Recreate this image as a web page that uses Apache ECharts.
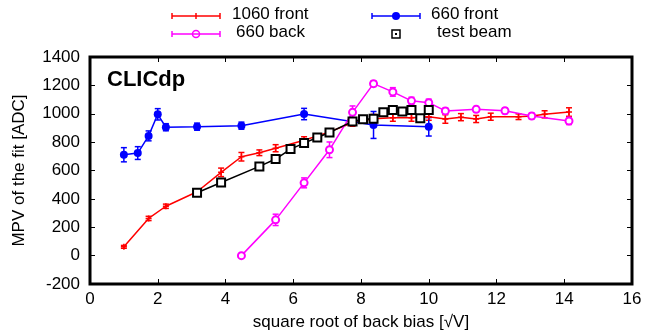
<!DOCTYPE html>
<html>
<head>
<meta charset="utf-8">
<script src="https://cdn.jsdelivr.net/npm/echarts@6/dist/echarts.min.js"></script>
<style>
  html, body { margin: 0; padding: 0; background: #fff; }
  #chart { width: 645px; height: 330px; }
</style>
</head>
<body>
<div id="chart"></div>
<script>
// Axis ticks
var xTicks = [0, 2, 4, 6, 8, 10, 12, 14, 16];
var yTicks = [-200, 0, 200, 400, 600, 800, 1000, 1200, 1400];

// 1060 front: x = sqrt(back bias), MPV, error
var x1060Front = [1.00, 1.73, 2.24, 3.16, 3.87, 4.47, 5.00, 5.48, 6.32, 7.07, 7.75, 8.37, 8.94, 9.49, 10.00, 10.49, 10.95, 11.40, 11.83, 12.65, 13.04, 13.42, 14.14];
var y1060Front = [62, 262, 348, 450, 587, 697, 725, 757, 813, 872, 937, 965, 972, 972, 979, 963, 976, 963, 979, 979, 984, 996, 1012];
var e1060Front = [10, 15, 15, 20, 30, 30, 20, 25, 25, 20, 25, 30, 25, 25, 25, 30, 25, 25, 25, 20, 15, 25, 30];

// 660 front
var x660Front = [1.00, 1.41, 1.73, 2.00, 2.24, 3.16, 4.47, 6.32, 8.37, 10.00];
var y660Front = [711, 723, 844, 996, 905, 909, 916, 998, 921, 908];
var e660Front = [50, 45, 35, 40, 25, 25, 25, 40, 95, 65];

// 660 back
var x660Back = [4.47, 5.48, 6.32, 7.07, 7.75, 8.37, 8.94, 9.49, 10.00, 10.49, 11.40, 12.25, 13.04, 14.14];
var y660Back = [0, 252, 513, 746, 1010, 1212, 1154, 1091, 1078, 1020, 1031, 1021, 984, 949];
var e660Back = [10, 40, 35, 55, 45, 20, 30, 25, 25, 20, 20, 20, 20, 25];

// test beam
var xTestBeam = [3.16, 3.87, 5.00, 5.48, 5.92, 6.32, 6.71, 7.07, 7.75, 8.06, 8.37, 8.66, 8.94, 9.22, 9.49, 9.75, 10.00];
var yTestBeam = [443, 515, 629, 681, 751, 793, 833, 868, 946, 962, 965, 1010, 1026, 1016, 1026, 968, 1026];

var FONT = '"Liberation Sans", Arial, Helvetica, sans-serif';

function pairs(xs, ys) {
  return xs.map(function (x, i) { return [x, ys[i]]; });
}
function errTriples(xs, ys, es) {
  return xs.map(function (x, i) { return [x, ys[i] - es[i], ys[i] + es[i]]; });
}

// Vertical error bars with short horizontal caps
function errorBarSeries(xs, ys, es, color) {
  return {
    type: 'custom',
    data: errTriples(xs, ys, es),
    z: 3,
    silent: true,
    renderItem: function (params, api) {
      var lo = api.coord([api.value(0), api.value(1)]);
      var hi = api.coord([api.value(0), api.value(2)]);
      var cap = 3;
      var style = { stroke: color, lineWidth: 1.5, fill: null };
      return {
        type: 'group',
        children: [
          { type: 'line', shape: { x1: lo[0], y1: lo[1], x2: hi[0], y2: hi[1] }, style: style },
          { type: 'line', shape: { x1: lo[0] - cap, y1: lo[1], x2: lo[0] + cap, y2: lo[1] }, style: style },
          { type: 'line', shape: { x1: hi[0] - cap, y1: hi[1], x2: hi[0] + cap, y2: hi[1] }, style: style }
        ]
      };
    }
  };
}

var plusPath = 'path://M0,5L10,5M5,0L5,10';

var chart = echarts.init(document.getElementById('chart'), null, { renderer: 'canvas' });

var axisLabelStyle = { color: '#000', fontSize: 17, fontFamily: FONT };
var tickStyle = { show: true, inside: true, length: 5, lineStyle: { color: '#000', width: 1 } };

var legendSamples = [];
function legendLine(x1, x2, y, color) {
  var s = { stroke: color, lineWidth: 1.5 };
  legendSamples.push({ type: 'line', shape: { x1: x1, y1: y, x2: x2, y2: y }, style: s, z: 10 });
  legendSamples.push({ type: 'line', shape: { x1: x1, y1: y - 3, x2: x1, y2: y + 3 }, style: s, z: 10 });
  legendSamples.push({ type: 'line', shape: { x1: x2, y1: y - 3, x2: x2, y2: y + 3 }, style: s, z: 10 });
}
function legendText(x, y, str) {
  legendSamples.push({ type: 'text', left: x, top: y - 10, style: { text: str, fill: '#000', font: '17px ' + FONT }, z: 10 });
}
legendLine(172, 220, 16, '#ff0000');
legendSamples.push({ type: 'line', shape: { x1: 196, y1: 13, x2: 196, y2: 19 }, style: { stroke: '#ff0000', lineWidth: 1.5 }, z: 10 });
legendText(232, 16, '1060 front');
legendLine(372, 420, 16, '#0000ff');
legendSamples.push({ type: 'circle', shape: { cx: 396, cy: 16, r: 4 }, style: { fill: '#0000ff' }, z: 10 });
legendText(431, 16, '660 front');
legendLine(172, 220, 34, '#ff00ff');
legendSamples.push({ type: 'circle', shape: { cx: 196, cy: 34, r: 3.5 }, style: { fill: null, stroke: '#ff00ff', lineWidth: 1.5 }, z: 10 });
legendText(236, 34, '660 back');
legendSamples.push({ type: 'rect', shape: { x: 392, y: 30, width: 8, height: 8 }, style: { fill: null, stroke: '#000', lineWidth: 1.5 }, z: 10 });
legendSamples.push({ type: 'rect', shape: { x: 395, y: 33, width: 2, height: 2 }, style: { fill: '#000' }, z: 10 });
legendText(437, 34, 'test beam');

var option = {
  animation: false,
  backgroundColor: '#fff',
  grid: {
    left: 90, right: 13, top: 57, bottom: 46, containLabel: false, outerBoundsMode: 'none',
    show: true, borderColor: '#000', borderWidth: 3, backgroundColor: 'transparent'
  },
  xAxis: [{
    type: 'value', min: 0, max: 16, interval: 2, position: 'bottom',
    name: 'square root of back bias [\u221AV]', nameLocation: 'middle', nameGap: 30,
    nameTextStyle: { color: '#000', fontSize: 17, fontFamily: FONT },
    axisLine: { show: false, onZero: false },
    axisTick: tickStyle,
    axisLabel: Object.assign({ margin: 7, formatter: function (v) { return xTicks.indexOf(v) >= 0 ? String(v) : ''; } }, axisLabelStyle),
    splitLine: { show: false }
  }, {
    type: 'value', min: 0, max: 16, interval: 2, position: 'top',
    axisLine: { show: false, onZero: false },
    axisTick: tickStyle,
    axisLabel: { show: false },
    splitLine: { show: false }
  }],
  yAxis: [{
    type: 'value', min: -200, max: 1400, interval: 200, position: 'left',
    name: 'MPV of the fit [ADC]', nameLocation: 'middle', nameGap: 62, nameRotate: 90,
    nameTextStyle: { color: '#000', fontSize: 17, fontFamily: FONT },
    axisLine: { show: false, onZero: false },
    axisTick: tickStyle,
    axisLabel: Object.assign({ margin: 10, formatter: function (v) { return yTicks.indexOf(v) >= 0 ? String(v) : ''; } }, axisLabelStyle),
    splitLine: { show: false }
  }, {
    type: 'value', min: -200, max: 1400, interval: 200, position: 'right',
    axisLine: { show: false, onZero: false },
    axisTick: tickStyle,
    axisLabel: { show: false },
    splitLine: { show: false }
  }],
  graphic: [{
    type: 'text', left: 107, top: 69, z: 10,
    style: { text: 'CLICdp', fill: '#000', font: 'bold 22px ' + FONT }
  }].concat(legendSamples),
  series: [
    errorBarSeries(x1060Front, y1060Front, e1060Front, '#ff0000'),
    {
      name: '1060 front', type: 'line', data: pairs(x1060Front, y1060Front),
      symbol: plusPath, symbolSize: 6, z: 4,
      lineStyle: { color: '#ff0000', width: 1.5 },
      itemStyle: { color: '#ff0000', borderColor: '#ff0000', borderWidth: 1.5 }
    },
    errorBarSeries(x660Front, y660Front, e660Front, '#0000ff'),
    {
      name: '660 front', type: 'line', data: pairs(x660Front, y660Front),
      symbol: 'circle', symbolSize: 8, z: 4,
      lineStyle: { color: '#0000ff', width: 1.5 },
      itemStyle: { color: '#0000ff' }
    },
    errorBarSeries(x660Back, y660Back, e660Back, '#ff00ff'),
    {
      name: '660 back', type: 'line', data: pairs(x660Back, y660Back),
      symbol: 'emptyCircle', symbolSize: 7, z: 4,
      lineStyle: { color: '#ff00ff', width: 1.5 },
      itemStyle: { color: '#ff00ff', borderColor: '#ff00ff', borderWidth: 1.5 }
    },
    {
      name: 'test beam', type: 'line', data: pairs(xTestBeam, yTestBeam),
      symbol: 'emptyRect', symbolSize: 8, z: 5,
      lineStyle: { color: '#000', width: 1.5 },
      itemStyle: { color: '#000', borderColor: '#000', borderWidth: 1.5 }
    }
  ]
};

chart.setOption(option);
</script>
</body>
</html>
